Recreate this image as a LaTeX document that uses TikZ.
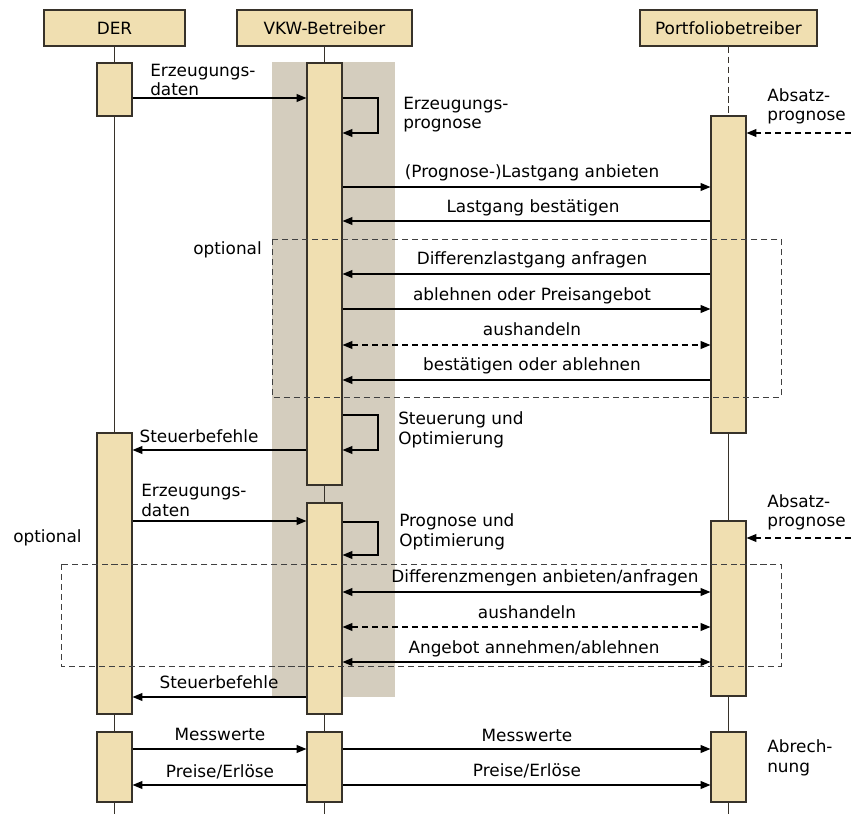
\documentclass[tikz,border=0pt]{standalone}
\usepackage{fontspec}
\setmainfont{DejaVu Sans}
\usetikzlibrary{positioning,fit,arrows.meta}
\definecolor{actfill}{RGB}{240,223,177}
\definecolor{bandfill}{RGB}{212,205,190}
\definecolor{boxline}{RGB}{55,50,42}

\begin{document}
\begin{tikzpicture}[x=0.025cm,y=-0.025cm,
	font=\fontsize{12pt}{14pt}\selectfont,
	head/.style={draw=boxline,fill=actfill,line width=0.8pt,inner sep=0pt,minimum height=0.9cm},
	act/.style={draw=boxline,fill=actfill,line width=0.8pt,inner sep=0pt},
	life/.style={line width=0.8pt,draw=boxline},
	msg/.style={line width=0.9pt,-{Triangle[length=7pt,width=5.6pt]}},
	both/.style={line width=0.9pt,{Triangle[length=7pt,width=5.6pt]}-{Triangle[length=7pt,width=5.6pt]}},
	dashedline/.style={dash pattern=on 4.3pt off 2.8pt},
	optbox/.style={line width=0.7pt,draw=black!75,dash pattern=on 4.3pt off 2.8pt},
	lbl/.style={inner sep=0pt,anchor=base},
	note/.style={inner sep=0pt,anchor=base west,align=left}]
	\useasboundingbox (0,0) rectangle (851,814);

	% shaded region behind the VKW lifeline
	\fill[bandfill] (272,62) rectangle (395,697);

	% participants
	\node[head,minimum width=3.525cm] (DER) at (114.5,28) {DER};
	\node[head,minimum width=4.375cm] (VKW) at (324.5,28) {VKW-Betreiber};
	\node[head,minimum width=4.425cm] (PB) at (728.5,28) {Portfoliobetreiber};

	% activations
	\node[act,fit={(97,63) (132,116)}] (D1) {};
	\node[act,fit={(97,433) (132,714)}] (D2) {};
	\node[act,fit={(97,732) (132,802)}] (D3) {};
	\node[act,fit={(307,63) (342,485)}] (V1) {};
	\node[act,fit={(307,503) (342,714)}] (V2) {};
	\node[act,fit={(307,732) (342,802)}] (V3) {};
	\node[act,fit={(711,116) (746,433)}] (P1) {};
	\node[act,fit={(711,521) (746,696)}] (P2) {};
	\node[act,fit={(711,732) (746,802)}] (P3) {};

	% lifelines
	\coordinate (Dend) at (114.5,814);
	\coordinate (Vend) at (324.5,814);
	\coordinate (Pend) at (728.5,814);
	\draw[life] (DER) -- (D1) (D1) -- (D2) (D2) -- (D3) (D3) -- (Dend);
	\draw[life] (VKW) -- (V1) (V1) -- (V2) (V2) -- (V3) (V3) -- (Vend);
	\draw[life,dashedline] (PB) -- (P1);
	\draw[life] (P1) -- (P2) (P2) -- (P3) (P3) -- (Pend);

	% first block
	\draw[msg] (D1.east |- 0,98) -- (V1.west |- 0,98);
	\node[note] (t1) at (150,96) {Erzeugungs-\\daten};
	\draw[msg] (V1.east |- 0,98) -| (378,133) -- (V1.east |- 0,133);
	\node[note] (t2) at (403,129) {Erzeugungs-\\prognose};
	\coordinate (AP1) at (851,133);
	\draw[msg,dashedline] (AP1) -- (P1.east |- AP1);
	\node[note] (t3) at (767,121) {Absatz-\\prognose};
	\draw[msg] (V1.east |- 0,187) -- (P1.west |- 0,187);
	\node[lbl] (t4) at (532,178) {(Prognose-)Lastgang anbieten};
	\draw[msg] (P1.west |- 0,221) -- (V1.east |- 0,221);
	\node[lbl] (t5) at (533,213) {Lastgang bestätigen};

	\node[lbl,anchor=base east] (o1) at (262,255) {optional};
	\draw[msg] (P1.west |- 0,274) -- (V1.east |- 0,274);
	\node[lbl] (t6) at (532,265) {Differenzlastgang anfragen};
	\draw[msg] (V1.east |- 0,309) -- (P1.west |- 0,309);
	\node[lbl] (t7) at (532,301) {ablehnen oder Preisangebot};
	\draw[both,dashedline] (V1.east |- 0,345) -- (P1.west |- 0,345);
	\node[lbl] (t8) at (532,336) {aushandeln};
	\draw[msg] (P1.west |- 0,380) -- (V1.east |- 0,380);
	\node[lbl] (t9) at (532,371) {bestätigen oder ablehnen};

	\draw[msg] (V1.east |- 0,415) -| (378,450) -- (V1.east |- 0,450);
	\node[note] (t10) at (398,444) {Steuerung und\\Optimierung};
	\draw[msg] (V1.west |- 0,450) -- (D2.east |- 0,450);
	\node[lbl] (t11) at (199,442) {Steuerbefehle};

	% second block
	\draw[msg] (D2.east |- 0,521) -- (V2.west |- 0,521);
	\node[note] (t12) at (141,516) {Erzeugungs-\\daten};
	\draw[msg] (V2.east |- 0,522) -| (378,555) -- (V2.east |- 0,555);
	\node[note] (t13) at (399,546) {Prognose und\\Optimierung};
	\coordinate (AP2) at (851,538);
	\draw[msg,dashedline] (AP2) -- (P2.east |- AP2);
	\node[note] (t14) at (767,527) {Absatz-\\prognose};

	\node[lbl,anchor=base west] (o2) at (13,542) {optional};
	\draw[both] (V2.east |- 0,592) -- (P2.west |- 0,592);
	\node[lbl] (t15) at (545,582) {Differenzmengen anbieten/anfragen};
	\draw[both,dashedline] (V2.east |- 0,627) -- (P2.west |- 0,627);
	\node[lbl] (t16) at (527,618) {aushandeln};
	\draw[both] (V2.east |- 0,662) -- (P2.west |- 0,662);
	\node[lbl] (t17) at (534,653) {Angebot annehmen/ablehnen};
	\draw[msg] (V2.west |- 0,697) -- (D2.east |- 0,697);
	\node[lbl] (t18) at (219,688) {Steuerbefehle};

	% settlement
	\draw[msg] (D3.east |- 0,749) -- (V3.west |- 0,749);
	\node[lbl] (t19) at (220,740) {Messwerte};
	\draw[msg] (V3.west |- 0,785) -- (D3.east |- 0,785);
	\node[lbl] (t20) at (220,777) {Preise/Erlöse};
	\draw[msg] (V3.east |- 0,749) -- (P3.west |- 0,749);
	\node[lbl] (t21) at (527,741) {Messwerte};
	\draw[msg] (V3.east |- 0,785) -- (P3.west |- 0,785);
	\node[lbl] (t22) at (527,776) {Preise/Erlöse};
	\node[note] (t23) at (767,772) {Abrech-\\nung};

	% optional frames
	\draw[optbox] (272,239) rectangle (781,397);
	\draw[optbox] (61,564) rectangle (781,666);
\end{tikzpicture}
\end{document}
